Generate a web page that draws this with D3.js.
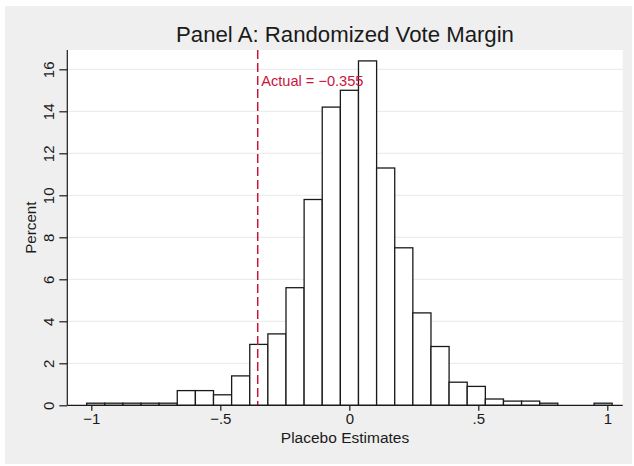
<!DOCTYPE html>
<html>
<head>
<meta charset="utf-8">
<script src="https://cdn.jsdelivr.net/npm/d3@7"></script>
<style>
  body { margin: 0; background: #ffffff; }
  svg { display: block; font-family: "Liberation Sans", Arial, Helvetica, sans-serif; }
</style>
</head>
<body>
<div id="chart"></div>
<script>
// histogram data (percent per bin)
var binStart = -1.018;
var binWidth = 0.07024;
var percents = [0.1, 0.1, 0.1, 0.1, 0.1, 0.7, 0.7, 0.5, 1.4, 2.9,
                3.4, 5.6, 9.8, 14.2, 15.0, 16.4, 11.3, 7.5, 4.4, 2.8,
                1.1, 0.9, 0.3, 0.2, 0.2, 0.1, 0, 0, 0.1];
var xTicks = [-1, -0.5, 0, 0.5, 1];
var xTickLabels = ["\u22121", "\u2212.5", "0", ".5", "1"];
var yTicks = [0, 2, 4, 6, 8, 10, 12, 14, 16];
var actualValue = -0.355;
var actualLabel = "Actual = \u22120.355";

var svgWidth = 634;
var svgHeight = 466;

// plot region in pixels
var plot = { left: 67.3, right: 622.7, top: 50, bottom: 405.3 };

var svg = d3.select("#chart")
  .append("svg")
  .attr("width", svgWidth)
  .attr("height", svgHeight);

// outer gray graph region
svg.append("rect")
  .attr("x", 5).attr("y", 6)
  .attr("width", 627).attr("height", 458)
  .attr("fill", "#efefef");

// white plot region
svg.append("rect")
  .attr("x", plot.left).attr("y", plot.top)
  .attr("width", plot.right - plot.left)
  .attr("height", plot.bottom - plot.top)
  .attr("fill", "#ffffff");

var xScale = d3.scaleLinear()
  .domain([-1, 1])
  .range([91.3, 607.3]);

var yScale = d3.scaleLinear()
  .domain([0, 16])
  .range([plot.bottom, 69.3]);

// gridlines
svg.append("g")
  .selectAll("line")
  .data(yTicks.filter(d => d > 0))
  .enter()
  .append("line")
  .attr("x1", plot.left)
  .attr("x2", plot.right)
  .attr("y1", d => yScale(d))
  .attr("y2", d => yScale(d))
  .attr("stroke", "#e8e8e8")
  .attr("stroke-width", 1);

// bars
var bins = percents.map(function(p, i) {
  return { x0: binStart + i * binWidth, x1: binStart + (i + 1) * binWidth, value: p };
});

svg.append("g")
  .selectAll("rect")
  .data(bins.filter(d => d.value > 0))
  .enter()
  .append("rect")
  .attr("x", d => xScale(d.x0))
  .attr("y", d => yScale(d.value))
  .attr("width", d => xScale(d.x1) - xScale(d.x0))
  .attr("height", d => yScale(0) - yScale(d.value))
  .attr("fill", "#ffffff")
  .attr("stroke", "#1a1a1a")
  .attr("stroke-width", 1.3);

// actual estimate line
var red = "#c8143c";
svg.append("line")
  .attr("x1", xScale(actualValue))
  .attr("x2", xScale(actualValue))
  .attr("y1", plot.top)
  .attr("y2", plot.bottom)
  .attr("stroke", red)
  .attr("stroke-width", 1.5)
  .attr("stroke-dasharray", "9,4");

svg.append("text")
  .attr("x", xScale(actualValue) + 3.5)
  .attr("y", 86)
  .attr("fill", red)
  .style("font-size", "14.6px")
  .text(actualLabel);

// axes
var bottomAxis = d3.axisBottom(xScale)
  .tickValues(xTicks)
  .tickFormat((d, i) => xTickLabels[i])
  .tickSize(5.5)
  .tickPadding(3);

var xAxis = svg.append("g")
  .attr("transform", `translate(0, ${plot.bottom})`)
  .call(bottomAxis);
xAxis.select(".domain").attr("d", `M${plot.left},0H${plot.right}`);

var leftAxis = d3.axisLeft(yScale)
  .tickValues(yTicks)
  .tickSize(8)
  .tickPadding(0);

var yAxis = svg.append("g")
  .attr("transform", `translate(${plot.left}, 0)`)
  .call(leftAxis);
yAxis.select(".domain").attr("d", `M0,${plot.top}V${plot.bottom}`);

svg.selectAll(".domain").attr("stroke", "#1a1a1a").attr("stroke-width", 1.2);
svg.selectAll(".tick line").attr("stroke", "#1a1a1a").attr("stroke-width", 1.2);
svg.selectAll(".tick text")
  .attr("fill", "#1a1a1a")
  .style("font-size", "15px")
  .style("font-family", "'Liberation Sans', Arial, sans-serif");

// rotate y tick labels
yAxis.selectAll(".tick text")
  .attr("x", null).attr("dy", null)
  .attr("text-anchor", "middle")
  .attr("transform", "translate(-13, 0) rotate(-90)");

// axis titles
svg.append("text")
  .attr("x", (plot.left + plot.right) / 2)
  .attr("y", 443.3)
  .attr("text-anchor", "middle")
  .attr("fill", "#1a1a1a")
  .style("font-size", "15.5px")
  .text("Placebo Estimates");

svg.append("text")
  .attr("transform", `translate(35.7, ${(plot.top + plot.bottom) / 2}) rotate(-90)`)
  .attr("text-anchor", "middle")
  .attr("fill", "#1a1a1a")
  .style("font-size", "15.2px")
  .text("Percent");

// title
svg.append("text")
  .attr("x", 345)
  .attr("y", 42.3)
  .attr("text-anchor", "middle")
  .attr("fill", "#1a1a1a")
  .style("font-size", "22.2px")
  .text("Panel A: Randomized Vote Margin");
</script>
</body>
</html>
